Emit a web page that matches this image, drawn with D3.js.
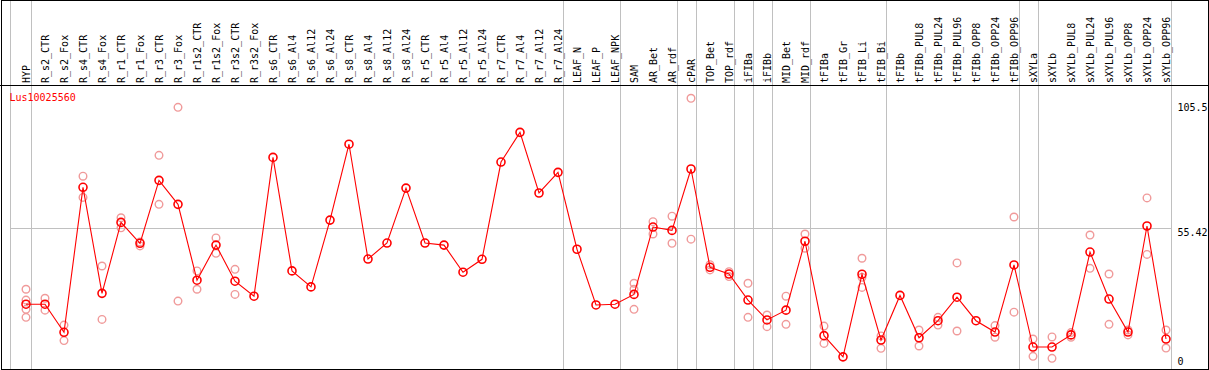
<!DOCTYPE html>
<html>
<head>
<meta charset="utf-8">
<script src="https://cdn.jsdelivr.net/npm/d3@7"></script>
<style>
  body { margin: 0; background: #fff; }
  text { font-family: "DejaVu Sans Mono", monospace; font-size: 10px; }
</style>
</head>
<body>
<div id="chart"></div>
<script>
// Data
var gene = "Lus10025560";

var samples = ["HYP", "R_s2_CTR", "R_s2_Fox", "R_s4_CTR", "R_s4_Fox", "R_r1_CTR", "R_r1_Fox",
  "R_r3_CTR", "R_r3_Fox", "R_r1s2_CTR", "R_r1s2_Fox", "R_r3s2_CTR", "R_r3s2_Fox",
  "R_s6_CTR", "R_s6_Al4", "R_s6_Al12", "R_s6_Al24", "R_s8_CTR", "R_s8_Al4", "R_s8_Al12", "R_s8_Al24",
  "R_r5_CTR", "R_r5_Al4", "R_r5_Al12", "R_r5_Al24", "R_r7_CTR", "R_r7_Al4", "R_r7_Al12", "R_r7_Al24",
  "LEAF_N", "LEAF_P", "LEAF_NPK", "SAM", "AR_Bet", "AR_rdf", "cPAR", "TOP_Bet", "TOP_rdf",
  "iFIBa", "iFIBb", "MID_Bet", "MID_rdf", "tFIBa", "tFIB_Gr", "tFIB_Li", "tFIB_Bi",
  "tFIBb", "tFIBb_PUL8", "tFIBb_PUL24", "tFIBb_PUL96", "tFIBb_OPP8", "tFIBb_OPP24", "tFIBb_OPP96",
  "sXYLa", "sXYLb", "sXYLb_PUL8", "sXYLb_PUL24", "sXYLb_PUL96", "sXYLb_OPP8", "sXYLb_OPP24", "sXYLb_OPP96"];

var means = [25.7, 25.7, 14.8, 71.0, 29.9, 57.4, 49.3, 73.7, 64.4, 35.0, 48.6, 34.6, 28.8,
  82.6, 38.6, 32.4, 58.3, 87.7, 43.2, 49.4, 70.7, 49.4, 48.6, 38.1, 43.1, 80.8, 92.3, 68.8, 76.8,
  47.0, 25.4, 25.7, 29.5, 55.6, 54.3, 78.1, 40.0, 37.4, 27.3, 19.6, 23.4, 50.1, 13.5, 5.3, 37.3, 11.8,
  29.1, 12.7, 19.3, 28.4, 19.3, 14.9, 40.9, 9.1, 9.1, 13.8, 45.9, 27.7, 14.9, 56.0, 12.2];

// replicate values per sample (empty where hidden under the mean)
var replicates = [
  [31.5, 27.3, 23.7, 20.6], [28.0, 23.4], [17.6, 11.6], [75.3, 67.1], [40.5, 19.8],
  [59.2, 55.3], [49.8, 48.3], [83.4, 64.4], [102.0, 26.9], [38.6, 31.5], [51.4, 45.4],
  [39.2, 29.5], [], [], [], [], [], [], [], [], [], [], [], [], [], [], [], [], [],
  [], [], [], [33.8, 31.5, 23.7], [57.7, 52.9], [59.8, 49.3], [105.5, 50.9], [39.0, 41.0],
  [38.3, 36.4], [33.8, 20.6], [21.5, 17.0], [28.8, 17.9], [52.9, 47.4], [17.2, 10.5], [],
  [43.5, 36.1, 32.2], [13.4, 8.6], [], [15.7, 9.5], [20.6, 17.6], [41.7, 15.3], [],
  [17.4, 12.9], [59.5, 22.6], [12.2, 5.5], [13.0, 4.7], [14.7, 12.9], [52.5, 39.6],
  [37.4, 17.9], [15.7, 13.8], [66.9, 45.0], [15.7, 8.7]];

// last sample of each tissue group (a grey separator follows it)
var groupEnds = ["HYP", "R_r7_Al24", "LEAF_NPK", "AR_rdf", "cPAR", "TOP_rdf", "iFIBa",
  "iFIBb", "MID_rdf", "tFIB_Bi", "tFIBb_OPP96", "sXYLa", "sXYLb_OPP96"];

var tickValues = [0, 55.42, 105.5];

// Layout
var width = 1209, height = 370;
var headerBottom = 85, plotBottom = 369;

var x = d3.scalePoint().domain(samples).range([26, 1166]);
var y = d3.scaleLinear().domain([0, 105.5]).range([370.5, 98.3]);

var svg = d3.select("#chart").append("svg")
  .attr("width", width).attr("height", height);

var grid = svg.append("g").attr("shape-rendering", "crispEdges");

// left grey line and separators
grid.append("line")
  .attr("x1", x(samples[0]) - 15.5).attr("x2", x(samples[0]) - 15.5)
  .attr("y1", 0).attr("y2", plotBottom)
  .attr("stroke", "#c0c0c0");

grid.selectAll("line.sep").data(groupEnds).enter().append("line")
  .attr("class", "sep")
  .attr("x1", function(d) { return Math.round(x(d) + 4.7) + 0.5; })
  .attr("x2", function(d) { return Math.round(x(d) + 4.7) + 0.5; })
  .attr("y1", 0).attr("y2", plotBottom)
  .attr("stroke", "#c0c0c0");

// horizontal grid at the middle tick
grid.append("line")
  .attr("x1", x(samples[0]) - 15.5).attr("x2", Math.round(x(samples[samples.length - 1]) + 4.7) + 0.5)
  .attr("y1", Math.round(y(tickValues[1])) + 0.5).attr("y2", Math.round(y(tickValues[1])) + 0.5)
  .attr("stroke", "#c0c0c0");

// borders
grid.append("rect")
  .attr("x", 1.5).attr("y", 0.5).attr("width", 1206.5).attr("height", plotBottom - 0.5)
  .attr("fill", "none").attr("stroke", "#000");
grid.append("line")
  .attr("x1", 0).attr("x2", width)
  .attr("y1", headerBottom + 0.5).attr("y2", headerBottom + 0.5)
  .attr("stroke", "#000");

// sample labels
svg.append("g").selectAll("text").data(samples).enter().append("text")
  .attr("transform", function(d) { return "translate(" + (x(d) + 3.5) + "," + (headerBottom - 2) + ") rotate(-90)"; })
  .attr("fill", "#000")
  .text(function(d) { return d; });

// right axis labels
svg.append("g").selectAll("text").data(tickValues).enter().append("text")
  .attr("x", 1177.5)
  .attr("y", function(d) { return Math.max(111, Math.min(365, y(d) + 8.5)); })
  .attr("fill", "#000")
  .text(function(d) { return d; });

// gene name
svg.append("text")
  .attr("x", 9.5).attr("y", 100.5)
  .attr("fill", "#ff0000")
  .text(gene);

// replicate points
var reps = [];
replicates.forEach(function(r, i) {
  r.forEach(function(v) { reps.push({ s: samples[i], v: v }); });
});

svg.append("g").selectAll("circle").data(reps).enter().append("circle")
  .attr("cx", function(d) { return x(d.s); })
  .attr("cy", function(d) { return y(d.v); })
  .attr("r", 3.8)
  .attr("fill", "none")
  .attr("stroke", "#f09a9a")
  .attr("stroke-width", 1.4);

// mean line
var line = d3.line()
  .x(function(d, i) { return x(samples[i]); })
  .y(function(d) { return y(d); });

svg.append("path")
  .datum(means)
  .attr("d", line)
  .attr("fill", "none")
  .attr("stroke", "#ff0000")
  .attr("stroke-width", 1.1);

svg.append("g").selectAll("circle").data(means).enter().append("circle")
  .attr("cx", function(d, i) { return x(samples[i]); })
  .attr("cy", function(d) { return y(d); })
  .attr("r", 4)
  .attr("fill", "none")
  .attr("stroke", "#ff0000")
  .attr("stroke-width", 1.6);
</script>
</body>
</html>
